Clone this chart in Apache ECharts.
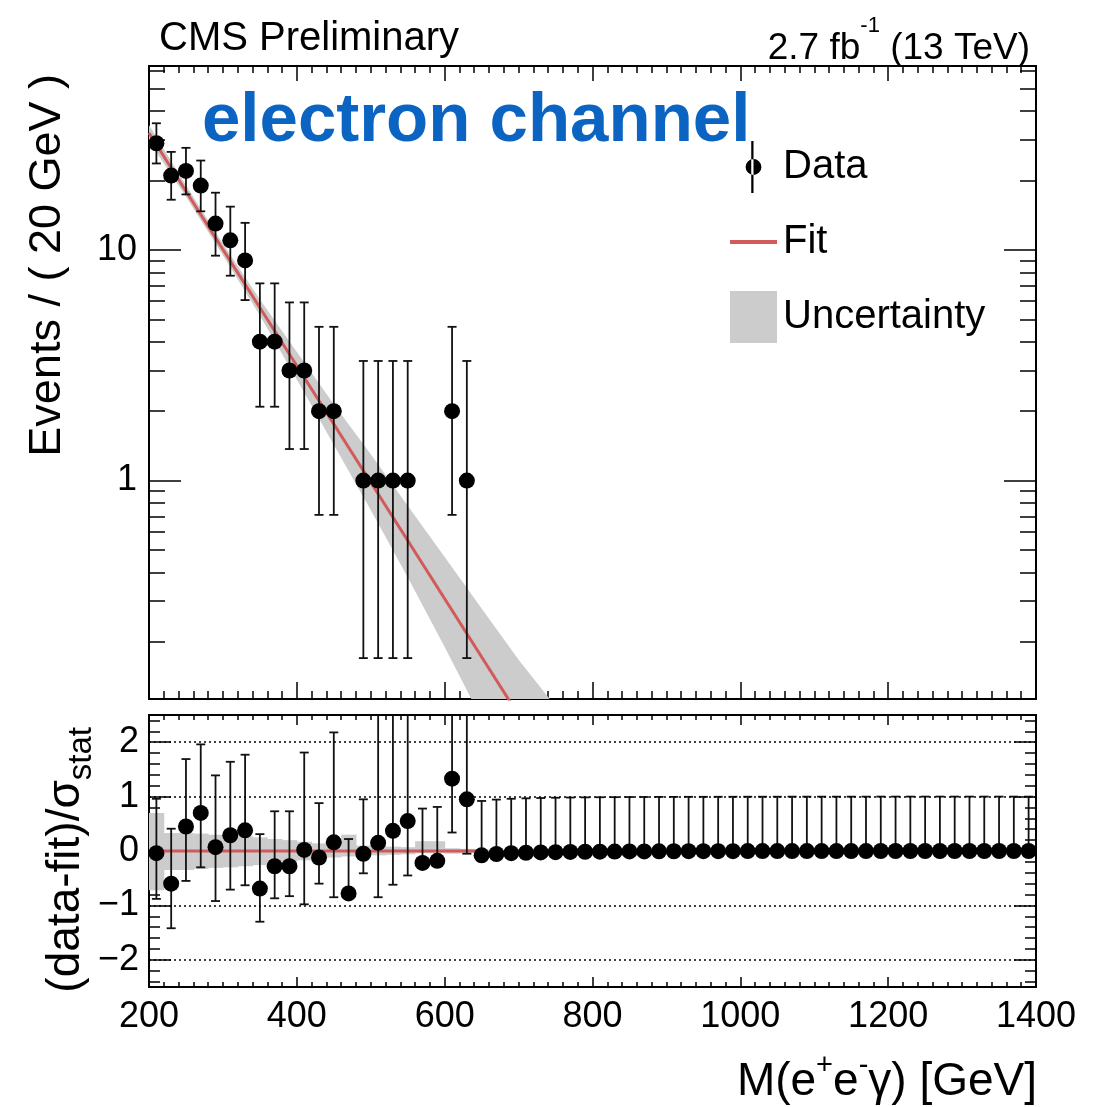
<!DOCTYPE html>
<html>
<head>
<meta charset="utf-8">
<script src="https://cdn.jsdelivr.net/npm/echarts@6/dist/echarts.min.js"></script>
<style>
  html, body { margin: 0; padding: 0; background: #fff; }
  #chart { width: 1105px; height: 1107px; }
</style>
</head>
<body>
<div id="chart"></div>
<script>
// ---- Data: M(e+e-gamma) spectrum, 20 GeV bins ----
const binCenters = [210, 230, 250, 270, 290, 310, 330, 350, 370, 390, 410, 430, 450, 470, 490, 510, 530, 550, 570, 590,
  610, 630, 650, 670, 690, 710, 730, 750, 770, 790, 810, 830, 850, 870, 890, 910, 930, 950, 970, 990,
  1010, 1030, 1050, 1070, 1090, 1110, 1130, 1150, 1170, 1190, 1210, 1230, 1250, 1270, 1290, 1310, 1330, 1350, 1370, 1390];

const eventCounts = [29, 21, 22, 19, 13, 11, 9, 4, 4, 3, 3, 2, 2, 0, 1, 1, 1, 1, 0, 0,
  2, 1, 0, 0, 0, 0, 0, 0, 0, 0, 0, 0, 0, 0, 0, 0, 0, 0, 0, 0,
  0, 0, 0, 0, 0, 0, 0, 0, 0, 0, 0, 0, 0, 0, 0, 0, 0, 0, 0, 0];

// Poisson intervals of the non-empty bins (first 22 bins)
const countErrLow = [23.7, 16.5, 17.4, 14.7, 9.44, 7.73, 6.06, 2.09, 2.09, 1.37, 1.37, 0.71, 0.71, 0, 0.17, 0.17, 0.17, 0.17, 0, 0, 0.71, 0.17];
const countErrHigh = [35.4, 26.6, 27.7, 24.4, 17.7, 15.4, 13.1, 7.16, 7.16, 5.92, 5.92, 4.64, 4.64, 0, 3.30, 3.30, 3.30, 3.30, 0, 0, 4.64, 3.30];

// Exponential fit (straight on the log axis) and its uncertainty band
const fitMass = [200, 750];
const fitValue = [32.1, 0.0538];
const bandMass = [200, 250, 300, 350, 400, 450, 500, 550, 600, 650, 700, 750];
const bandHigh = [34.8, 19.05, 10.64, 6.10, 3.61, 2.14, 1.30, 0.778, 0.466, 0.279, 0.167, 0.105];
const bandLow = [29.6, 16.98, 9.48, 5.19, 2.74, 1.43, 0.746, 0.381, 0.190, 0.0925, 0.045, 0.0214];

// Pulls (data-fit)/sigma_stat with their bar ends
const pullValue = [-0.04, -0.60, 0.45, 0.70, 0.07, 0.29, 0.38, -0.69, -0.28, -0.28, 0.02, -0.12, 0.16, -0.78, -0.05, 0.15, 0.37, 0.55, -0.22, -0.18,
  1.33, 0.95, -0.08, -0.055, -0.04, -0.032, -0.026, -0.021, -0.017, -0.014, -0.012, -0.010, -0.008, -0.007, -0.006, -0.005, -0.004, -0.004, -0.003, -0.003,
  -0.002, -0.002, -0.002, -0.001, -0.001, -0.001, -0.001, -0.001, -0.001, 0, 0, 0, 0, 0, 0, 0, 0, 0, 0, 0];
const pullLow = [-0.88, -1.42, -0.55, -0.30, -0.92, -0.71, -0.63, -1.30, -0.87, -0.83, -0.98, -0.60, -0.85, -0.78, -0.41, -0.85, -0.62, -0.45, -0.22, -0.18,
  0.34, -0.05, -0.08, -0.055, -0.04, -0.032, -0.026, -0.021, -0.017, -0.014, -0.012, -0.010, -0.008, -0.007, -0.006, -0.005, -0.004, -0.004, -0.003, -0.003,
  -0.002, -0.002, -0.002, -0.001, -0.001, -0.001, -0.001, -0.001, -0.001, 0, 0, 0, 0, 0, 0, 0, 0, 0, 0, 0];
const pullHigh = [0.96, 0.41, 1.69, 1.96, 1.39, 1.64, 1.77, 0.31, 0.73, 0.73, 1.81, 0.88, 2.18, 0.22, 0.95, 2.93, 3.15, 3.33, 0.78, 0.81,
  3.38, 3.25, 0.92, 0.945, 0.96, 0.968, 0.974, 0.979, 0.983, 0.986, 0.988, 0.990, 0.992, 0.993, 0.994, 0.995, 0.996, 0.996, 0.997, 0.997,
  0.998, 0.998, 0.998, 0.999, 0.999, 0.999, 0.999, 0.999, 0.999, 1, 1, 1, 1, 1, 1, 1, 1, 1, 1, 1];

// Fit uncertainty in pull units, per bin
const pullBandCenters = [210, 230, 250, 270, 290, 310, 330, 350, 370, 390, 410, 430, 450, 470, 490, 510, 530, 550, 570, 590, 610, 630, 650];
const pullBandHigh = [0.70, 0.33, 0.33, 0.32, 0.30, 0.29, 0.27, 0.25, 0.22, 0.20, 0.17, 0.14, 0.12, 0.30, 0.10, 0.09, 0.08, 0.07, 0.18, 0.18, 0.05, 0.04, 0.03];
const pullBandLow = [-0.72, -0.35, -0.35, -0.33, -0.31, -0.30, -0.28, -0.26, -0.22, -0.20, -0.17, -0.14, -0.12, -0.10, -0.08, -0.08, -0.07, -0.06, -0.04, -0.04, -0.05, -0.04, -0.03];
const pullFitMass = [200, 650];
const pullFitValue = [0, 0];
const pullGridLines = [2, 1, -1, -2];

// Axis ticks
const massMin = 200, massMax = 1400, massStep = 200;
const eventsMin = 0.113, eventsMax = 62.7;
const eventsMajorTicks = [1, 10];
const eventsMinorTicks = [0.2, 0.3, 0.4, 0.5, 0.6, 0.7, 0.8, 0.9, 2, 3, 4, 5, 6, 7, 8, 9, 20, 30, 40, 50, 60];
const pullMajorTicks = [-2, -1, 0, 1, 2];
const pullMinorTicks = [-2.4, -2.2, -1.8, -1.6, -1.4, -1.2, -0.8, -0.6, -0.4, -0.2, 0.2, 0.4, 0.6, 0.8, 1.2, 1.4, 1.6, 1.8, 2.2, 2.4];

// ---- Styling ----
const FONT = 'Liberation Sans';
const RED = '#d25a5a';
const GREY = '#cccccc';
const BLUE = '#0b64c1';

const chart = echarts.init(document.getElementById('chart'), null, { renderer: 'canvas' });

const topGrid = { left: 149, right: 69, top: 66, height: 633 };
const botGrid = { left: 149, right: 69, top: 715, height: 272 };

function massAxis(gridIndex, position, majorLen, minorLen, showLabels) {
  return {
    type: 'value', gridIndex, position, min: massMin, max: massMax, interval: massStep,
    axisLine: { show: true, onZero: false, lineStyle: { color: '#000', width: 2 } },
    axisTick: { show: true, inside: true, length: majorLen, lineStyle: { color: '#000', width: 1.5 } },
    minorTick: { show: true, splitNumber: 10, length: minorLen, lineStyle: { color: '#000', width: 1.5 } },
    splitLine: { show: false },
    axisLabel: showLabels
      ? { show: true, fontFamily: FONT, fontSize: 36, color: '#000', margin: 12, formatter: v => String(v) }
      : { show: false }
  };
}

function eventsAxis(position, ticks, len, labels) {
  return {
    type: 'log', logBase: 10, gridIndex: 0, position, min: eventsMin, max: eventsMax,
    axisLine: { show: true, onZero: false, lineStyle: { color: '#000', width: 2 } },
    axisTick: { show: true, inside: true, length: len, customValues: ticks, lineStyle: { color: '#000', width: 1.5 } },
    minorTick: { show: false },
    splitLine: { show: false },
    axisLabel: labels
      ? { show: true, customValues: ticks, fontFamily: FONT, fontSize: 36, color: '#000', margin: 12 }
      : { show: false }
  };
}

function pullAxis(position, ticks, len, labels) {
  return {
    type: 'value', gridIndex: 1, position, min: -2.5, max: 2.5,
    axisLine: { show: true, onZero: false, lineStyle: { color: '#000', width: 2 } },
    axisTick: { show: true, inside: true, length: len, customValues: ticks, lineStyle: { color: '#000', width: 1.5 } },
    minorTick: { show: false },
    splitLine: { show: false },
    axisLabel: labels
      ? {
          show: true, customValues: ticks, fontFamily: FONT, fontSize: 36, color: '#000', margin: 10,
          formatter: v => (v < 0 ? '\u2212' + Math.abs(v) : String(v))
        }
      : { show: false }
  };
}

// Vertical error bar with small caps
function errorBarItem(params, api) {
  const x = api.value(0);
  const lo = api.value(1);
  const hi = api.value(2);
  const p1 = api.coord([x, lo]);
  const p2 = api.coord([x, hi]);
  const cap = 4.5;
  const style = { stroke: '#111', lineWidth: 1.8, fill: null };
  return {
    type: 'group',
    children: [
      { type: 'line', shape: { x1: p1[0], y1: p1[1], x2: p2[0], y2: p2[1] }, style },
      { type: 'line', shape: { x1: p1[0] - cap, y1: p1[1], x2: p1[0] + cap, y2: p1[1] }, style },
      { type: 'line', shape: { x1: p2[0] - cap, y1: p2[1], x2: p2[0] + cap, y2: p2[1] }, style }
    ]
  };
}

// Data points of the spectrum (empty bins are not shown on the log scale)
const spectrumPoints = [];
const spectrumBars = [];
binCenters.forEach((m, i) => {
  if (eventCounts[i] > 0) {
    spectrumPoints.push([m, eventCounts[i]]);
    spectrumBars.push([m, countErrLow[i], countErrHigh[i]]);
  }
});

const pullPoints = binCenters.map((m, i) => [m, pullValue[i]]);
const pullBars = binCenters.map((m, i) => [m, pullLow[i], pullHigh[i]]);
const pullBandData = pullBandCenters.map((m, i) => [m, pullBandLow[i], pullBandHigh[i]]);
const bandData = bandMass.map((m, i) => [m, bandLow[i], bandHigh[i]]);

const option = {
  backgroundColor: '#fff',
  animation: false,
  textStyle: { fontFamily: FONT },
  title: [
    { text: 'CMS Preliminary', left: 154, top: 14, textStyle: { fontFamily: FONT, fontSize: 40, fontWeight: 'normal', color: '#000' } },
    {
      text: '{a|2.7 fb}{s|-1}{a| (13 TeV)}', right: 70, top: 10,
      textStyle: {
        fontWeight: 'normal',
        rich: {
          a: { fontFamily: FONT, fontSize: 37, fontWeight: 'normal', color: '#000', lineHeight: 52, verticalAlign: 'bottom' },
          s: { fontFamily: FONT, fontSize: 22, fontWeight: 'normal', color: '#000', lineHeight: 52, verticalAlign: 'top' }
        }
      }
    },
    { text: 'electron channel', left: 197, top: 82, textStyle: { fontFamily: FONT, fontSize: 69, fontWeight: 'bold', color: BLUE } }
  ],
  legend: {
    orient: 'vertical', left: 725, top: 136, itemWidth: 47, itemHeight: 52, itemGap: 29,
    selectedMode: false,
    textStyle: { fontFamily: FONT, fontSize: 40, color: '#000', padding: [0, 0, 0, 1] },
    data: [
      { name: 'Data', icon: 'path://M5,0h2v46h-2zM0,23a7,7 0 1,0 14,0a7,7 0 1,0 -14,0z', itemStyle: { color: '#000' } },
      { name: 'Fit', icon: 'path://M0,0h47v4h-47z', itemStyle: { color: RED } },
      { name: 'Uncertainty', icon: 'rect', itemStyle: { color: GREY } }
    ]
  },
  grid: [
    Object.assign({ containLabel: false }, topGrid),
    Object.assign({ containLabel: false }, botGrid)
  ],
  xAxis: [
    massAxis(0, 'bottom', 17, 8, false),
    massAxis(0, 'top', 15, 7, false),
    massAxis(1, 'bottom', 10, 5, true),
    massAxis(1, 'top', 10, 5, false)
  ],
  yAxis: [
    eventsAxis('left', eventsMajorTicks, 32, true),
    eventsAxis('left', eventsMinorTicks, 16, false),
    eventsAxis('right', eventsMajorTicks, 32, false),
    eventsAxis('right', eventsMinorTicks, 16, false),
    pullAxis('left', pullMajorTicks, 22, true),
    pullAxis('left', pullMinorTicks, 11, false),
    pullAxis('right', pullMajorTicks, 22, false),
    pullAxis('right', pullMinorTicks, 11, false)
  ],
  graphic: [
    {
      type: 'text', x: 48, y: 74, rotation: Math.PI / 2,
      style: { text: 'Events / ( 20 GeV )', font: '45px "Liberation Sans"', fill: '#000', textAlign: 'right', textVerticalAlign: 'middle' }
    },
    {
      type: 'text', x: 66, y: 727, rotation: Math.PI / 2,
      style: {
        text: '{a|(data-fit)/σ}{b|stat}', textAlign: 'right', textVerticalAlign: 'middle',
        rich: {
          a: { font: '46px "Liberation Sans"', fill: '#000', lineHeight: 64, verticalAlign: 'middle' },
          b: { font: '33px "Liberation Sans"', fill: '#000', lineHeight: 32, verticalAlign: 'bottom' }
        }
      }
    },
    {
      type: 'text', x: 1037, y: 1082,
      style: {
        text: '{a|M(e}{s|+}{a|e}{s|-}{a|γ) [GeV]}', textAlign: 'right', textVerticalAlign: 'middle',
        rich: {
          a: { font: '46px "Liberation Sans"', fill: '#000', lineHeight: 62, verticalAlign: 'middle' },
          s: { font: '29px "Liberation Sans"', fill: '#000', lineHeight: 30, verticalAlign: 'top' }
        }
      }
    }
  ],
  series: [
    // --- upper panel ---
    {
      name: 'Uncertainty', type: 'custom', xAxisIndex: 0, yAxisIndex: 0, clip: true, silent: true,
      itemStyle: { color: GREY },
      data: bandData,
      renderItem: (params, api) => {
        if (params.dataIndex !== 0) return null;
        const upper = bandData.map(d => api.coord([d[0], d[2]]));
        const lower = bandData.map(d => api.coord([d[0], d[1]])).reverse();
        return { type: 'polygon', shape: { points: upper.concat(lower) }, style: { fill: GREY } };
      },
      z: 1
    },
    {
      name: 'Fit', type: 'line', xAxisIndex: 0, yAxisIndex: 0, clip: true, silent: true,
      data: fitMass.map((m, i) => [m, fitValue[i]]),
      showSymbol: false, symbol: 'none',
      lineStyle: { color: RED, width: 3 }, itemStyle: { color: RED },
      z: 2
    },
    {
      name: 'Data bars', type: 'custom', xAxisIndex: 0, yAxisIndex: 0, clip: true, silent: true,
      data: spectrumBars, renderItem: errorBarItem, z: 3
    },
    {
      name: 'Data', type: 'scatter', xAxisIndex: 0, yAxisIndex: 0, clip: true, silent: true,
      data: spectrumPoints, symbol: 'circle', symbolSize: 16,
      itemStyle: { color: '#000', opacity: 1 }, z: 4
    },
    // --- pull panel ---
    {
      name: 'Pull band', type: 'custom', xAxisIndex: 2, yAxisIndex: 4, clip: true, silent: true,
      data: pullBandData,
      renderItem: (params, api) => {
        const m = api.value(0);
        const a = api.coord([m - 10, api.value(2)]);
        const b = api.coord([m + 10, api.value(1)]);
        return { type: 'rect', shape: { x: a[0], y: a[1], width: b[0] - a[0] + 0.5, height: b[1] - a[1] }, style: { fill: GREY } };
      },
      z: 1
    },
    {
      name: 'Pull fit', type: 'line', xAxisIndex: 2, yAxisIndex: 4, clip: true, silent: true,
      data: pullFitMass.map((m, i) => [m, pullFitValue[i]]),
      showSymbol: false, symbol: 'none',
      lineStyle: { color: RED, width: 3 },
      markLine: {
        silent: true, symbol: 'none', label: { show: false },
        lineStyle: { color: '#000', width: 1.5, type: [2, 3] },
        data: pullGridLines.map(v => ({ yAxis: v }))
      },
      z: 2
    },
    {
      name: 'Pull bars', type: 'custom', xAxisIndex: 2, yAxisIndex: 4, clip: true, silent: true,
      data: pullBars, renderItem: errorBarItem, z: 3
    },
    {
      name: 'Pulls', type: 'scatter', xAxisIndex: 2, yAxisIndex: 4, clip: true, silent: true,
      data: pullPoints, symbol: 'circle', symbolSize: 16,
      itemStyle: { color: '#000', opacity: 1 }, z: 4
    }
  ]
};

chart.setOption(option);
</script>
</body>
</html>
